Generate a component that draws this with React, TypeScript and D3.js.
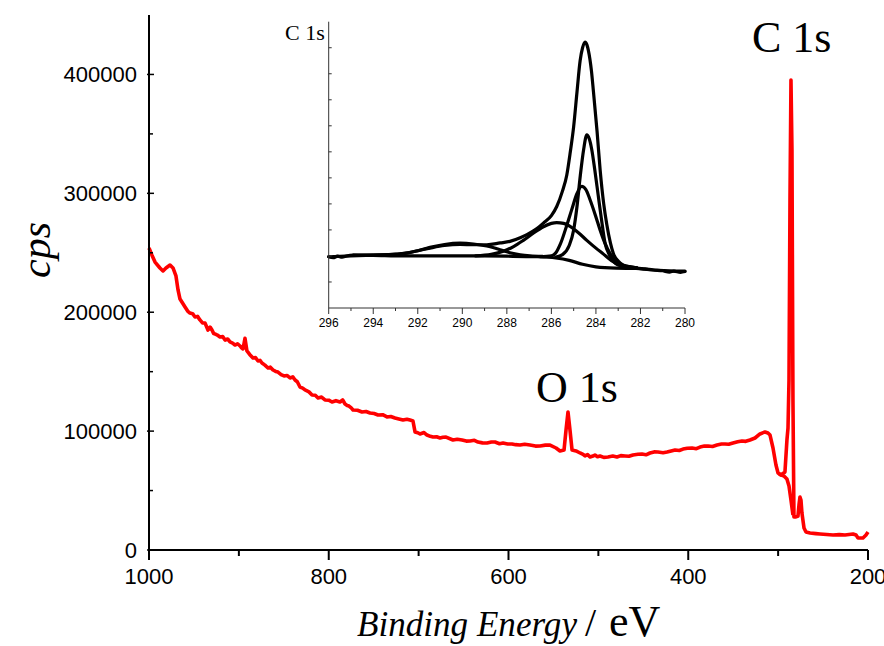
import React from 'react';
import * as d3 from 'd3';

// ---------- Survey spectrum (binding energy in eV, counts per second) ----------
const surveyBE = [
  1000, 996.7, 993.3, 987.8, 984.4, 981.1, 976.6, 973.3, 970.0, 967.7, 965.5,
  959.9, 957, 954.4, 951.5, 948.8, 946, 943.3, 940.5, 937.7, 936, 934.4, 932, 929.9, 928, 926.6, 924,
  921.0, 918, 915.4, 912.5, 909.9, 907, 904.3, 901.5, 898.7, 897, 895.4, 893.2, 891.0, 888, 884.3,
  881.5, 878.7, 876.5, 874.3, 871, 867.6, 865, 862.0, 859, 856.5, 853, 849.8, 846.5, 843.1, 840,
  837.5, 835, 832.0, 829, 826.4, 822, 818.6, 815, 811.9, 808, 804.2, 800, 796.4, 792, 787.5, 784.5,
  781.9, 779.5, 777.5, 775, 773.0, 768, 763.0, 758.5, 754.1, 749.5, 745.2, 740, 735.2, 731, 726.3,
  722, 717.4, 713, 709.6, 706.3, 704.0, 701, 698.5, 694, 690.7, 687, 684.0, 680, 676.2, 673, 669.5,
  661.8, 657, 651.7, 647, 642.8, 638, 633.9, 629, 623.9, 619, 615.0, 610, 606.1, 601, 596.1, 592,
  587.2, 582, 576.1, 570, 564.9, 559, 553.8, 547.1, 542.7, 538.2, 536.0, 533.8, 531.6, 529.3, 524.9,
  520.4, 517, 514.9, 512, 509.3, 506, 503.8, 501, 498.2, 494, 489.3, 484, 479.3, 475, 470.4, 466,
  461.5, 456, 451.5, 447, 442.6, 438, 433.7, 428, 423.6, 419, 414.7, 410, 405.8, 401, 395.8, 391,
  386.9, 382, 378.0, 373, 368.0, 363, 359.1, 355, 350.2, 345, 340.2, 336, 331.3, 325.7, 320.2, 314.6,
  311.3, 309.0, 305.7, 302.4, 300.1, 296.8, 292.4, 290.2, 289.0, 287.9, 286.8, 285.7, 284.6, 283.5,
  282.4, 280.2, 277.9, 276.8, 275.7, 274.6, 273.5, 271.2, 269.0, 264.5, 258, 253.4, 246, 238.9, 232,
  225.6, 216.7, 213.3, 211.1, 205.6, 202.2, 200,
];
const surveyCps = [
  254000, 248000, 242200, 237200, 234700, 237200, 239700, 237200, 230500, 218700, 211100,
  204400, 201000, 199300, 198800, 196000, 196500, 193500, 191000, 190900, 188000, 185000, 187500, 185000, 182000, 181700, 180800,
  179200, 179500, 176600, 177500, 175000, 174000, 172400, 173500, 171600, 170000, 169100, 178000, 167400, 164500, 161500,
  161800, 159000, 159500, 157300, 155500, 153100, 153800, 151400, 150200, 149700, 147500, 146400, 146800, 144700, 145600,
  143000, 141500, 137100, 136200, 134600, 133000, 130400, 130200, 127800, 128600, 126200, 126000, 124500, 125600, 124500, 126200,
  122800, 121600, 121100, 119500, 117800, 117500, 116100, 116500, 115200, 114800, 113600, 113800, 111900, 112300, 111000,
  110200, 109300, 110000, 109300, 108500, 99300, 98600, 97600, 98800, 96700, 95600, 95000, 95200, 94200, 94800, 95000,
  92500, 93200, 92500, 91600, 91700, 92300, 90800, 90100, 90000, 90900, 90800, 89400, 90000, 89100, 89200, 88600,
  88300, 89000, 88300, 87400, 87500, 88200, 88300, 85800, 83300, 84100, 100900, 116100, 100900, 84100, 83300,
  81600, 80400, 79100, 80200, 78200, 79000, 79900, 78400, 79100, 77900, 78200, 79000, 78200, 79400, 79100, 78800,
  79900, 80500, 80700, 80100, 81600, 82500, 82400, 81800, 82400, 83300, 84100, 83700, 84900, 85600, 85800, 85200,
  86600, 87400, 87500, 87100, 88300, 89100, 89200, 88900, 90000, 91000, 91700, 91400, 92500, 94200, 97600, 99300,
  98400, 96700, 85800, 71500, 64800, 63100, 65600, 92500, 102600, 143000, 294400, 395300, 336400, 126200,
  27800, 27800, 28600, 37800, 44600, 42100, 31100, 18500, 15100, 14300, 13800, 13500, 13000, 12600, 12900,
  12600, 13500, 12600, 10100, 10100, 12600, 15100,
];
// second trace branch under the C 1s peak
const branchBE = [299.0, 293.5, 290.2, 287.9, 285.7, 283.5];
const branchCps = [63900, 62200, 59700, 53800, 42100, 29400];

const xMajorTicks = [1000, 800, 600, 400, 200];
const xMinorTicks = [900, 700, 500, 300];
const yMajorTicks = [0, 100000, 200000, 300000, 400000];
const yMinorTicks = [50000, 150000, 250000, 350000];

// ---------- Inset: C 1s high-resolution fit (arbitrary intensity units) ----------
const bgBE = [296, 295.8, 295.6, 295.4, 295.2, 294.9, 294, 292.6, 291, 289.6, 288, 286.7, 285.8, 285.2, 284.6, 284, 283.1, 282.2, 281.6, 280.7, 280];
const bgV = [1.97, 1.93, 1.99, 1.95, 2.0, 2.03, 2.02, 2.0, 2.0, 2.0, 1.99, 1.97, 1.92, 1.83, 1.68, 1.58, 1.53, 1.52, 1.47, 1.43, 1.42];

const peak4BE = [294.9, 294, 293, 292.6, 292, 291.45, 290.8, 290.1, 289.5, 288.9, 288.3, 287.86, 287.4, 286.96, 286.4];
const peak4V = [2.03, 2.03, 2.06, 2.1, 2.2, 2.33, 2.44, 2.49, 2.46, 2.38, 2.24, 2.12, 2.04, 2.0, 1.98];

const peak3BE = [289.4, 288.7, 288.16, 287.7, 287.26, 286.8, 286.36, 286.0, 285.76, 285.45, 285.16, 284.8, 284.41, 284.0, 283.66, 283.3, 282.92, 282.5, 282.17];
const peak3V = [2.0, 2.06, 2.18, 2.36, 2.6, 2.88, 3.12, 3.25, 3.28, 3.25, 3.14, 2.9, 2.6, 2.3, 2.07, 1.82, 1.65, 1.57, 1.54];

const peak2BE = [286.5, 286.0, 285.8, 285.6, 285.3, 285.09, 284.85, 284.64, 284.45, 284.26, 284.0, 283.81, 283.6, 283.37, 283.1, 282.77, 282.4, 282.17];
const peak2V = [1.97, 2.0, 2.12, 2.45, 3.2, 3.77, 4.4, 4.67, 4.55, 4.15, 3.5, 2.99, 2.5, 2.1, 1.8, 1.64, 1.57, 1.54];

const peak1BE = [285.8, 285.5, 285.2, 285.0, 284.85, 284.7, 284.55, 284.41, 284.3, 284.19, 284.05, 283.89, 283.75, 283.59, 283.4, 283.2, 283.0, 282.6, 282.17];
const peak1V = [1.96, 2.05, 2.4, 3.0, 3.9, 5.1, 6.1, 6.65, 6.5, 6.1, 5.3, 4.28, 3.4, 2.49, 2.05, 1.78, 1.65, 1.57, 1.54];

const envBE = [296, 295, 294, 293, 292.6, 292, 291.45, 290.8, 290.1, 289.5, 288.9, 288.3, 287.86, 287.4, 287.1, 286.7, 286.36, 286.0, 285.76, 285.5, 285.31, 285.15, 285.0, 284.85, 284.71, 284.6, 284.49, 284.4, 284.34, 284.2, 284.11, 283.95, 283.81, 283.65, 283.51, 283.35, 283.22, 283.0, 282.77, 282.4, 282.17, 281.8, 281.42, 281, 280.7, 280.5, 280.2, 280];
const envV = [1.97, 2.0, 2.03, 2.07, 2.1, 2.2, 2.3, 2.4, 2.44, 2.43, 2.43, 2.5, 2.56, 2.7, 2.82, 3.02, 3.26, 3.55, 3.9, 4.5, 5.1, 6.0, 6.97, 8.3, 9.5, 10.0, 10.22, 10.1, 9.9, 9.1, 8.3, 6.8, 5.3, 4.0, 3.2, 2.5, 2.1, 1.8, 1.65, 1.57, 1.53, 1.5, 1.46, 1.43, 1.38, 1.42, 1.37, 1.4];

const insetXMajor = [296, 294, 292, 290, 288, 286, 284, 282, 280];
const insetXMinor = [295, 293, 291, 289, 287, 285, 283, 281];
const insetYTicks = [1, 2, 3, 4, 5, 6, 7, 8, 9, 10];

const SANS = '"Liberation Sans", Arial, sans-serif';
const SERIF = '"Liberation Serif", "Times New Roman", serif';

function zip(a: number[], b: number[]): [number, number][] {
  return a.map((v, i) => [v, b[i]]);
}

export default function App() {
  const W = 884, H = 646;
  const x = d3.scaleLinear().domain([1000, 200]).range([149, 868]);
  const y = d3.scaleLinear().domain([0, 450000]).range([550, 15]);

  const ix = d3.scaleLinear().domain([296, 280]).range([328.7, 685]);
  const iy = d3.scaleLinear().domain([0, 11]).range([308, 21.7]);

  const mainLine = d3.line<[number, number]>().x(d => x(d[0])).y(d => y(d[1]));
  const insetLine = d3
    .line<[number, number]>()
    .x(d => ix(d[0]))
    .y(d => iy(d[1]))
    .curve(d3.curveMonotoneX);

  const insetSeries = [
    zip(bgBE, bgV),
    zip(peak4BE, peak4V),
    zip(peak3BE, peak3V),
    zip(peak2BE, peak2V),
    zip(peak1BE, peak1V),
    zip(envBE, envV),
  ];

  return (
    <div style={{ position: 'absolute', left: 0, top: 0, width: W, height: H, background: '#fff' }}>
      <svg width={W} height={H} style={{ display: 'block' }}>
        <rect width={W} height={H} fill="#fff" />

        {/* survey spectrum */}
        <path d={mainLine(zip(surveyBE, surveyCps)) || ''} fill="none" stroke="#ff0000" strokeWidth={3.6} strokeLinejoin="round" />
        <path d={mainLine(zip(branchBE, branchCps)) || ''} fill="none" stroke="#ff0000" strokeWidth={3.6} strokeLinejoin="round" />

        {/* main axes */}
        <line x1={x(1000)} x2={x(200)} y1={y(0)} y2={y(0)} stroke="#000" strokeWidth={2} />
        <line x1={x(1000)} x2={x(1000)} y1={y(0)} y2={y(450000)} stroke="#000" strokeWidth={2} />
        {xMajorTicks.map(t => (
          <g key={'xm' + t}>
            <line x1={x(t)} x2={x(t)} y1={y(0)} y2={y(0) + 10} stroke="#000" strokeWidth={2} />
            <text x={x(t)} y={584} textAnchor="middle" fontFamily={SANS} fontSize={22} fill="#000">{t}</text>
          </g>
        ))}
        {xMinorTicks.map(t => (
          <line key={'xn' + t} x1={x(t)} x2={x(t)} y1={y(0)} y2={y(0) + 6} stroke="#000" strokeWidth={2} />
        ))}
        {yMajorTicks.map(t => (
          <g key={'ym' + t}>
            <line x1={x(1000) - 2} x2={x(1000) + 5} y1={y(t)} y2={y(t)} stroke="#000" strokeWidth={1.5} />
            <text x={137} y={y(t) + 8} textAnchor="end" fontFamily={SANS} fontSize={22} fill="#000">{t}</text>
          </g>
        ))}
        {yMinorTicks.map(t => (
          <line key={'yn' + t} x1={x(1000)} x2={x(1000) + 4} y1={y(t)} y2={y(t)} stroke="#000" strokeWidth={1.5} />
        ))}

        {/* axis titles */}
        <text transform="translate(50,250) rotate(-90)" textAnchor="middle" fontFamily={SERIF} fontStyle="italic" fontSize={42} fill="#000">cps</text>
        <text x={357} y={636} fontFamily={SERIF} fontStyle="italic" fontSize={36} textLength={220} lengthAdjust="spacingAndGlyphs" fill="#000">Binding Energy</text>
        <text x={585} y={636} fontFamily={SERIF} fontSize={40} fill="#000">/</text>
        <text x={609} y={636} fontFamily={SERIF} fontSize={44} fill="#000">eV</text>

        {/* peak labels */}
        <text x={752} y={52} fontFamily={SERIF} fontSize={44} fill="#000">C 1s</text>
        <text x={536} y={402} fontFamily={SERIF} fontSize={44} fill="#000">O 1s</text>

        {/* inset */}
        <g>
          {insetSeries.map((s, i) => (
            <path key={'is' + i} d={insetLine(s) || ''} fill="none" stroke="#000" strokeWidth={3.2} strokeLinejoin="round" strokeLinecap="round" />
          ))}
          <line x1={ix(296)} x2={ix(280)} y1={iy(0)} y2={iy(0)} stroke="#333" strokeWidth={1} />
          <line x1={ix(296)} x2={ix(296)} y1={iy(0)} y2={iy(11)} stroke="#333" strokeWidth={1} />
          {insetYTicks.map(t => (
            <line key={'iyt' + t} x1={ix(296)} x2={ix(296) + 3} y1={iy(t)} y2={iy(t)} stroke="#333" strokeWidth={1} />
          ))}
          {insetXMajor.map(t => (
            <g key={'ixm' + t}>
              <line x1={ix(t)} x2={ix(t)} y1={iy(0)} y2={iy(0) + 6} stroke="#333" strokeWidth={1} />
              <text x={ix(t)} y={327} textAnchor="middle" fontFamily={SANS} fontSize={12} fill="#000">{t}</text>
            </g>
          ))}
          {insetXMinor.map(t => (
            <line key={'ixn' + t} x1={ix(t)} x2={ix(t)} y1={iy(0)} y2={iy(0) + 3} stroke="#333" strokeWidth={1} />
          ))}
          <text x={285} y={40} fontFamily={SERIF} fontSize={22} fill="#000">C 1s</text>
        </g>
      </svg>
    </div>
  );
}
